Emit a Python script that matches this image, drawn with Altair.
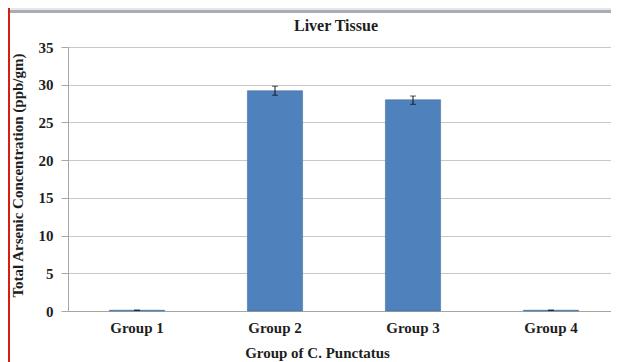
import altair as alt
import pandas as pd

groups = ["Group 1", "Group 2", "Group 3", "Group 4"]
values = [0.1, 29.2, 28.0, 0.1]
err_lo = [0.1, 28.6, 27.4, 0.1]
err_hi = [0.1, 29.8, 28.5, 0.1]
y_ticks = [0, 5, 10, 15, 20, 25, 30, 35]
chart_title = "Liver Tissue"

df = pd.DataFrame({"group": groups, "value": values, "lo": err_lo, "hi": err_hi})
FONT = "Liberation Serif"
TXT = "#1e1e1e"

x_scale = alt.Scale(paddingInner=0.6, paddingOuter=0.3)
x_axis = alt.Axis(
    title="Group of C. Punctatus", labelAngle=0, ticks=False,
    domainColor="#a6a6a6", labelFont=FONT, labelFontWeight="bold",
    labelFontSize=15, labelColor=TXT, labelPadding=9,
    titleFont=FONT, titleFontWeight="bold", titleFontSize=15,
    titleColor=TXT, titleX=249, titleY=46, titleBaseline="alphabetic",
    titleAlign="center",
)
y_scale = alt.Scale(domain=[0, 35], nice=False)
y_axis = alt.Axis(
    title="Total  Arsenic Concentration (ppb/gm)", values=y_ticks,
    labelOverlap=False,
    gridColor="#c8c8c8", domainColor="#a6a6a6", tickColor="#a6a6a6",
    tickSize=7, labelPadding=8, labelFont=FONT, labelFontWeight="bold",
    labelFontSize=15, labelColor=TXT,
    titleFont=FONT, titleFontWeight="bold", titleFontSize=15,
    titleColor=TXT, titleX=-51, titleY=128, titleBaseline="middle",
    titleAlign="center",
)

xe = alt.X("group:N", sort=groups, scale=x_scale, axis=x_axis)
bars = alt.Chart(df).mark_bar(color="#4f81bd", stroke="#44709f", strokeWidth=0.6).encode(
    x=xe, y=alt.Y("value:Q", scale=y_scale, axis=y_axis)
)
rules = alt.Chart(df).mark_rule(color="#111111", strokeWidth=1).encode(
    x=xe, y=alt.Y("lo:Q", scale=y_scale, axis=y_axis), y2="hi:Q"
)
caps_hi = alt.Chart(df).mark_tick(color="#111111", thickness=1, size=6).encode(
    x=xe, y=alt.Y("hi:Q", scale=y_scale, axis=y_axis)
)
caps_lo = alt.Chart(df).mark_tick(color="#111111", thickness=1, size=6).encode(
    x=xe, y=alt.Y("lo:Q", scale=y_scale, axis=y_axis)
)

one = alt.Data(values=[{"t": chart_title}])
band = alt.Chart(one).mark_rect(color="#e3e9f0").encode(
    x=alt.value(-58), x2=alt.value(552), y=alt.value(-39), y2=alt.value(-37)
)
band_line = alt.Chart(one).mark_rect(color="#a9adb2").encode(
    x=alt.value(-58), x2=alt.value(552), y=alt.value(-37), y2=alt.value(-34)
)
red = alt.Chart(one).mark_rect(color="#d42012").encode(
    x=alt.value(-60), x2=alt.value(-58), y=alt.value(-39), y2=alt.value(315)
)
title_txt = alt.Chart(one).mark_text(
    font=FONT, fontWeight="bold", fontSize=16, color=TXT,
    align="center", baseline="alphabetic",
).encode(text="t:N", x=alt.value(268), y=alt.value(-16))

chart = alt.layer(bars, rules, caps_hi, caps_lo, band, band_line, red, title_txt).properties(
    width=552, height=264,
    autosize=alt.AutoSizeParams(type="none"),
    padding={"left": 60, "top": 39, "right": -9, "bottom": 51},
).configure_view(stroke=None).configure(background="white")

chart.save("out.html", embed_options={"renderer": "svg", "actions": False})
